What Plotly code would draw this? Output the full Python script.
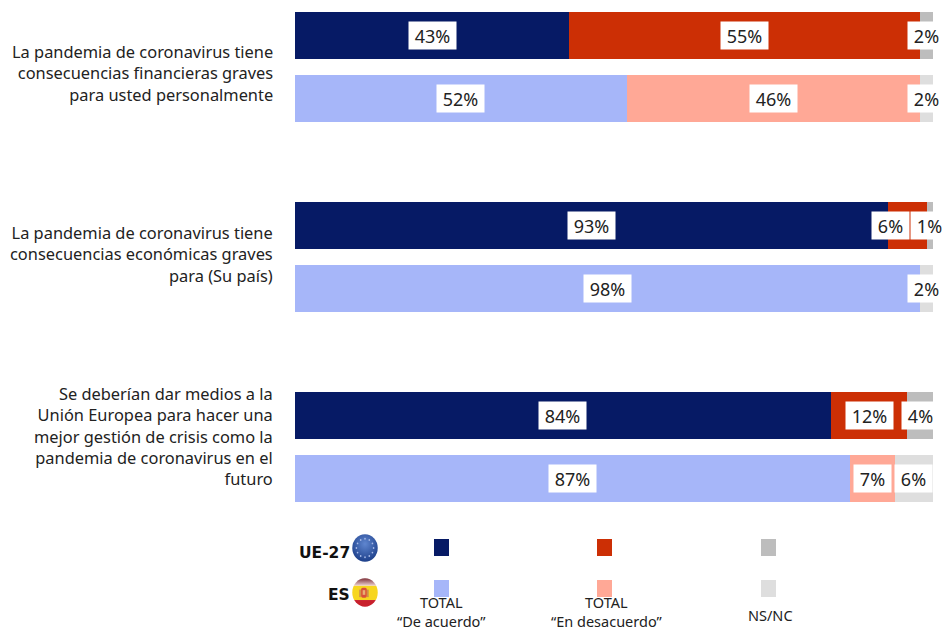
import base64
import math
import plotly.graph_objects as go

W, H = 942, 630
ML, MR, MT, MB = 295, 9, 4, 120

rows = ["q1_eu", "q1_es", "gap1", "q2_eu", "q2_es", "gap2", "q3_eu", "q3_es"]
agree = [43, 52, None, 93, 98, None, 84, 87]
disagree = [55, 46, None, 6, 0, None, 12, 7]
dk = [2, 2, None, 1, 2, None, 4, 6]

questions = [
    "La pandemia de coronavirus tiene<br>consecuencias financieras graves<br>para usted personalmente",
    "La pandemia de coronavirus tiene<br>consecuencias económicas graves<br>para (Su país)",
    "Se deberían dar medios a la<br>Unión Europea para hacer una<br>mejor gestión de crisis como la<br>pandemia de coronavirus en el<br>futuro",
]
question_y = [73, 254, 436]
legend_labels = ["TOTAL<br>\u201cDe acuerdo\u201d", "TOTAL<br>\u201cEn desacuerdo\u201d", "NS/NC"]

C_EU = ["#061A65", "#CC2F05", "#BDBDBD"]
C_ES = ["#A6B6F9", "#FFA896", "#DEDEDE"]
FONT = "Noto Sans"
TXT = "#222222"

def colors(i):
    return [C_EU[i] if r.endswith("_eu") else C_ES[i] for r in rows]

fig = go.Figure()
for i, vals in enumerate([agree, disagree, dk]):
    fig.add_bar(y=rows, x=vals, orientation="h", marker=dict(color=colors(i), line_width=0),
                width=0.742, showlegend=False, hoverinfo="skip")

def px(x): return (x - ML) / (W - ML - MR)
def py(y): return 1 - (y - MT) / (H - MT - MB)

ann = []
# value labels
shift = {("q2_eu", 1): -17}
for k, r in enumerate(rows):
    if agree[k] is None:
        continue
    start = 0
    for i, v in enumerate([agree[k], disagree[k], dk[k]]):
        if v:
            ann.append(dict(x=start + v / 2, y=r, xref="x", yref="y", text=f"{v}%", showarrow=False,
                            xshift=shift.get((r, i), 0), bgcolor="white", borderpad=0,
                            width=47 if v >= 10 else 37, height=27, align="center", valign="middle",
                            font=dict(family=FONT, size=18, color=TXT)))
        start += v

# question labels
for q, yc in zip(questions, question_y):
    ann.append(dict(x=px(275), y=py(yc), xref="paper", yref="paper", text=q, showarrow=False,
                    xanchor="right", yanchor="middle", align="right",
                    font=dict(family=FONT, size=16.4, color=TXT)))

# legend
cols = [441.5, 604.5, 768.5]
shapes = []
for cx, c1, c2 in zip(cols, C_EU, C_ES):
    for c, top in ((c1, 539), (c2, 580)):
        shapes.append(dict(type="rect", xref="paper", yref="paper", x0=px(cx - 7.5), x1=px(cx + 7.5),
                           y0=py(top), y1=py(top + 17), fillcolor=c, line_width=0, layer="above"))
lab_x = [441, 607, 770]
lab_y = [611, 611, 615]
for x, y, t in zip(lab_x, lab_y, legend_labels):
    ann.append(dict(x=px(x), y=py(y), xref="paper", yref="paper", text=t, showarrow=False, align="center",
                    xanchor="center", yanchor="middle", font=dict(family=FONT, size=14.5, color=TXT)))
ann.append(dict(x=px(352), y=py(553), xref="paper", yref="paper", text="<b>UE-27</b>", showarrow=False,
                xanchor="right", yanchor="middle", font=dict(family="DejaVu Sans", size=15.5, color="#111111")))
ann.append(dict(x=px(352), y=py(595), xref="paper", yref="paper", text="<b>ES</b>", showarrow=False,
                xanchor="right", yanchor="middle", font=dict(family="DejaVu Sans", size=15.5, color="#111111")))

# flag icons
def stars():
    out = ""
    for n in range(12):
        a = n * math.pi / 6
        out += f'<circle cx="{50 + 33 * math.cos(a):.1f}" cy="{50 + 33 * math.sin(a):.1f}" r="3.2" fill="#A8BBE8"/>'
    return out

eu_svg = f'''<svg xmlns="http://www.w3.org/2000/svg" viewBox="0 0 100 100">
<defs><radialGradient id="g" cx="50%" cy="35%" r="65%"><stop offset="0" stop-color="#5F86CF"/><stop offset="1" stop-color="#1D3F8A"/></radialGradient></defs>
<circle cx="50" cy="50" r="49" fill="url(#g)"/>{stars()}</svg>'''
es_svg = '''<svg xmlns="http://www.w3.org/2000/svg" viewBox="0 0 100 100">
<defs><clipPath id="c"><circle cx="50" cy="50" r="49"/></clipPath>
<linearGradient id="t" x1="0" y1="0" x2="0" y2="1"><stop offset="0" stop-color="#7A2A33"/><stop offset="1" stop-color="#EFD6D6"/></linearGradient></defs>
<g clip-path="url(#c)"><rect width="100" height="27" fill="url(#t)"/><rect y="27" width="100" height="49" fill="#F7D61F"/><rect y="76" width="100" height="24" fill="#C8202C"/>
<rect x="28" y="40" width="6" height="26" fill="#C98A50"/><rect x="58" y="40" width="6" height="26" fill="#C98A50"/><rect x="35" y="34" width="22" height="34" rx="6" fill="#D8503A"/><rect x="41" y="42" width="10" height="16" fill="#E8B070"/></g></svg>'''

def uri(s):
    return "data:image/svg+xml;base64," + base64.b64encode(s.encode()).decode()

images = [
    dict(source=uri(eu_svg), xref="paper", yref="paper", x=px(352), y=py(534), sizex=px(378) - px(352),
         sizey=py(534) - py(562), xanchor="left", yanchor="top", sizing="stretch", layer="above"),
    dict(source=uri(es_svg), xref="paper", yref="paper", x=px(352), y=py(578), sizex=px(378) - px(352),
         sizey=py(578) - py(607), xanchor="left", yanchor="top", sizing="stretch", layer="above"),
]

fig.update_layout(
    width=W, height=H, autosize=False, barmode="stack", bargap=0,
    margin=dict(l=ML, r=MR, t=MT, b=MB, autoexpand=False),
    paper_bgcolor="white", plot_bgcolor="white",
    xaxis=dict(range=[0, 100], visible=False, fixedrange=True),
    yaxis=dict(categoryorder="array", categoryarray=rows, autorange="reversed", visible=False, fixedrange=True),
    annotations=ann, shapes=shapes, images=images,
)
fig.write_html("out.html", config={"displayModeBar": False},
               post_script="document.body.style.margin='0';document.body.style.overflow='hidden';")
